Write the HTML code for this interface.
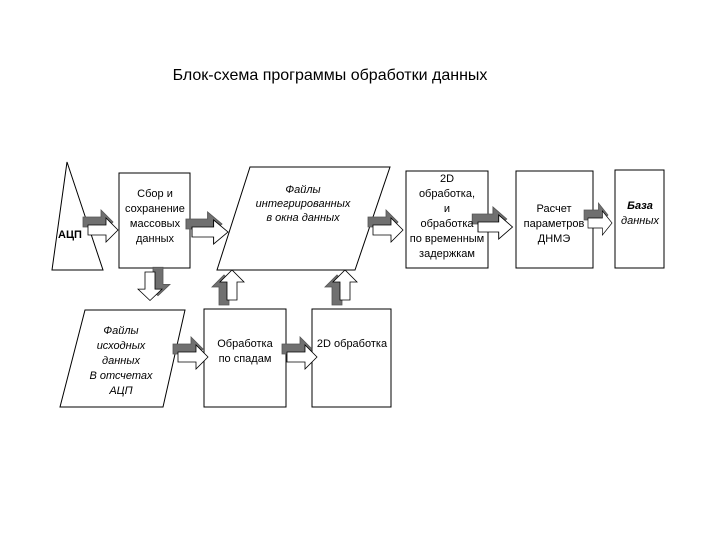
<!DOCTYPE html>
<html><head><meta charset="utf-8"><style>
html,body{margin:0;padding:0;background:#fff;}
svg{display:block;}
text{font-family:"Liberation Sans",sans-serif;font-size:11px;fill:#000;}
.i{font-style:italic;}
</style></head><body>
<svg width="720" height="540" viewBox="0 0 720 540" xmlns="http://www.w3.org/2000/svg">
<defs>
<polygon id="ar" points="0,-5 18,-5 18,-12 30,0 18,12 18,5 0,5"/>
<g id="arr">
<use href="#ar" transform="translate(-5,-8)" fill="#707070" stroke="#555" stroke-width="0.8"/>
<use href="#ar" fill="#fff" stroke="#000" stroke-width="0.8"/>
</g>
</defs>
<text x="330" y="80" text-anchor="middle" style="font-size:16px">Блок-схема программы обработки данных</text>

<g fill="#fff" stroke="#000" stroke-width="1">
<polygon points="67,162 103,270 52,270"/>
<rect x="119" y="173" width="71" height="95"/>
<polygon points="250,167 390,167 355,270 217,270"/>
<rect x="406" y="171" width="82" height="97"/>
<rect x="516" y="171" width="77" height="97"/>
<rect x="615" y="170" width="49" height="98"/>
<polygon points="85,310 185,310 163,407 60,407"/>
<rect x="204" y="309" width="82" height="98"/>
<rect x="312" y="309" width="79" height="98"/>
</g>

<!-- arrows -->
<use href="#arr" transform="translate(88,230)"/>
<use href="#arr" transform="translate(192,232) scale(1.2,1)"/>
<use href="#arr" transform="translate(373,230)"/>
<use href="#arr" transform="translate(478,227) scale(1.15,1)"/>
<use href="#arr" transform="translate(588,223) scale(0.8,1)"/>
<use href="#arr" transform="translate(178,357)"/>
<use href="#arr" transform="translate(287,357)"/>
<g transform="translate(150,272) rotate(90) scale(0.95,1)">
<use href="#ar" transform="translate(-5,-8)" fill="#707070" stroke="#555" stroke-width="0.8"/>
<use href="#ar" fill="#fff" stroke="#000" stroke-width="0.8"/>
</g>
<g transform="translate(232,300) rotate(-90)">
<use href="#ar" transform="translate(-5,-8)" fill="#707070" stroke="#555" stroke-width="0.8"/>
<use href="#ar" fill="#fff" stroke="#000" stroke-width="0.8"/>
</g>
<g transform="translate(345,300) rotate(-90)">
<use href="#ar" transform="translate(-5,-8)" fill="#707070" stroke="#555" stroke-width="0.8"/>
<use href="#ar" fill="#fff" stroke="#000" stroke-width="0.8"/>
</g>

<!-- labels -->
<text x="70" y="238" text-anchor="middle" style="font-weight:bold">АЦП</text>
<g text-anchor="middle">
<text x="155" y="197">Сбор и</text>
<text x="155" y="212">сохранение</text>
<text x="155" y="227">массовых</text>
<text x="155" y="242">данных</text>
<text class="i" x="303" y="193">Файлы</text>
<text class="i" x="303" y="207">интегрированных</text>
<text class="i" x="303" y="221">в окна  данных</text>
<text x="447" y="182">2D</text>
<text x="447" y="197">обработка,</text>
<text x="447" y="212">и</text>
<text x="447" y="227">обработка</text>
<text x="447" y="242">по временным</text>
<text x="447" y="257">задержкам</text>
<text x="554" y="212">Расчет</text>
<text x="554" y="227">параметров</text>
<text x="554" y="242">ДНМЭ</text>
<text class="i" x="640" y="209" style="font-weight:bold">База</text>
<text class="i" x="640" y="224">данных</text>
<text class="i" x="121" y="334">Файлы</text>
<text class="i" x="121" y="349">исходных</text>
<text class="i" x="121" y="364">данных</text>
<text class="i" x="121" y="379">В отсчетах</text>
<text class="i" x="121" y="394">АЦП</text>
<text x="245" y="347">Обработка</text>
<text x="245" y="362">по спадам</text>
<text x="352" y="347">2D обработка</text>
</g>
</svg>
</body></html>
